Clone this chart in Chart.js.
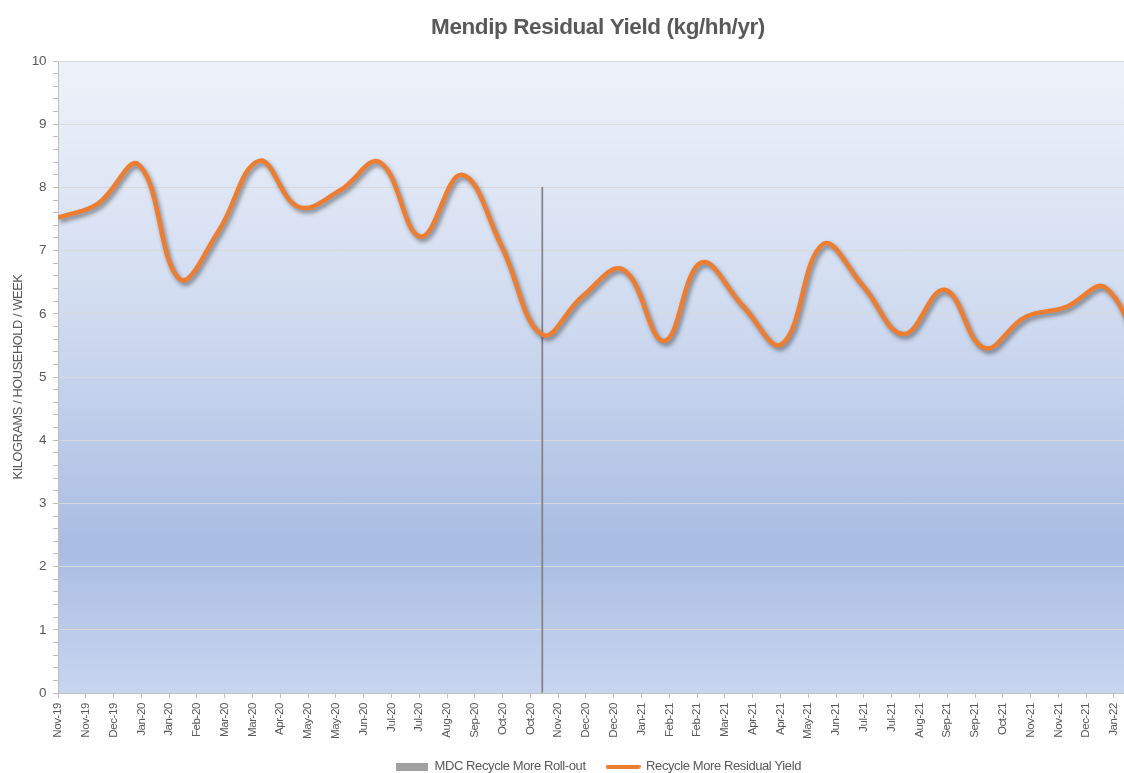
<!DOCTYPE html>
<html>
<head>
<meta charset="utf-8">
<title>Mendip Residual Yield</title>
<script src="https://cdn.jsdelivr.net/npm/chart.js@4"></script>
<style>
  html, body { margin: 0; padding: 0; overflow: hidden; background: #fff; }
  /* the original chart is wider than the window, the right side gets cut off */
  #wrap { width: 1206px; height: 773px; }
</style>
</head>
<body>
<div id="wrap"><canvas id="yieldChart"></canvas></div>
<script>
// --- DATA ---
const startDate = '2019-11-01';
const monthStarts = [
  '2019-11-01', '2019-12-01', '2020-01-01', '2020-02-01', '2020-03-01', '2020-04-01',
  '2020-05-01', '2020-06-01', '2020-07-01', '2020-08-01', '2020-09-01', '2020-10-01',
  '2020-11-01', '2020-12-01', '2021-01-01', '2021-02-01', '2021-03-01', '2021-04-01',
  '2021-05-01', '2021-06-01', '2021-07-01', '2021-08-01', '2021-09-01', '2021-10-01',
  '2021-11-01', '2021-12-01', '2022-01-01', '2022-02-01'
];
const residualYield = [
  7.52, 7.74, 8.36, 6.55, 7.30, 8.42,
  7.69, 7.95, 8.40, 7.22, 8.20, 7.08,
  5.67, 6.27, 6.70, 5.57, 6.81, 6.14,
  5.52, 7.10, 6.45, 5.68, 6.38, 5.46,
  5.95, 6.10, 6.41, 5.00
];
const rolloutDates = ['2020-11-01'];
const rolloutValues = [8];

// x axis ticks every 21 days starting 1 Nov 2019
const tickStepDays = 21;
const tickLabels = [
  'Nov-19', 'Nov-19', 'Dec-19', 'Jan-20', 'Jan-20', 'Feb-20', 'Mar-20', 'Mar-20',
  'Apr-20', 'May-20', 'May-20', 'Jun-20', 'Jul-20', 'Jul-20', 'Aug-20', 'Sep-20',
  'Oct-20', 'Oct-20', 'Nov-20', 'Dec-20', 'Dec-20', 'Jan-21', 'Feb-21', 'Feb-21',
  'Mar-21', 'Apr-21', 'Apr-21', 'May-21', 'Jun-21', 'Jul-21', 'Jul-21', 'Aug-21',
  'Sep-21', 'Sep-21', 'Oct-21', 'Nov-21', 'Nov-21', 'Dec-21', 'Jan-22', 'Jan-22', 'Feb-22'
];
const xMaxDays = 860;
const yMax = 10;
const yMinorStep = 0.2;

const TXT = '#595959';
const ORANGE = '#ed7d31';
const ROLLOUT_GREY = '#7f7f7f';

Chart.defaults.font.family = '"Liberation Sans Narrow", "Arial Narrow", "Liberation Sans", Arial, sans-serif';
Chart.defaults.color = TXT;

function dayOffset(s) {
  return Math.round((Date.parse(s) - Date.parse(startDate)) / 864e5);
}
function isMajor(v) {
  return Math.abs(v - Math.round(v)) < 1e-6;
}
function legendIcon(w, h, color, round) {
  const c = document.createElement('canvas');
  c.width = w; c.height = h;
  const g = c.getContext('2d');
  g.fillStyle = color;
  if (round) {
    g.beginPath();
    g.roundRect(0, 0, w, h, h / 2);
    g.fill();
  } else {
    g.fillRect(0, 0, w, h);
  }
  return c;
}
const orangeIcon = legendIcon(35, 4, ORANGE, true);
const greyIcon = legendIcon(32, 8, '#a0a0a0', false);

// tighter letters, the original uses a narrow face
const narrowText = {
  id: 'narrowText',
  beforeLayout(chart) { chart.ctx.letterSpacing = '-0.4px'; }
};

// gradient fill behind the plot area
const plotBackground = {
  id: 'plotBackground',
  beforeDraw(chart) {
    const { ctx, chartArea: a } = chart;
    const g = ctx.createLinearGradient(0, a.top, 0, a.bottom);
    g.addColorStop(0, '#eef2fa');
    g.addColorStop(0.4, '#d0dbf0');
    g.addColorStop(0.77, '#a9bde3');
    g.addColorStop(1, '#c8d5ef');
    ctx.save();
    ctx.fillStyle = g;
    ctx.fillRect(a.left, a.top, a.right - a.left, a.bottom - a.top);
    ctx.restore();
  }
};

// soft drop shadow under the yield line
const lineShadow = {
  id: 'lineShadow',
  beforeDatasetDraw(chart, args) {
    if (args.index !== 0) return;
    const ctx = chart.ctx;
    ctx.save();
    ctx.shadowColor = 'rgba(30, 30, 30, 0.5)';
    ctx.shadowBlur = 4;
    ctx.shadowOffsetX = 2;
    ctx.shadowOffsetY = 3;
  },
  afterDatasetDraw(chart, args) {
    if (args.index !== 0) return;
    chart.ctx.restore();
  }
};

const yieldPoints = monthStarts.map((m, i) => ({ x: dayOffset(m), y: residualYield[i] }));
const rolloutPoints = rolloutDates.map((d, i) => ({ x: dayOffset(d), y: rolloutValues[i] }));

new Chart(document.getElementById('yieldChart'), {
  type: 'line',
  data: {
    datasets: [{
      type: 'line',
      label: 'Recycle More Residual Yield',
      data: yieldPoints,
      borderColor: ORANGE,
      borderWidth: 4.5,
      pointRadius: 0,
      tension: 0.4,
      fill: false
    }, {
      type: 'bar',
      label: 'MDC Recycle More Roll-out',
      data: rolloutPoints,
      backgroundColor: ROLLOUT_GREY,
      barThickness: 1
    }]
  },
  options: {
    responsive: true,
    maintainAspectRatio: false,
    animation: false,
    layout: { padding: { left: 0, right: 10, top: 0, bottom: -10 } },
    plugins: {
      title: {
        display: true,
        text: 'Mendip Residual Yield (kg/hh/yr)',
        color: TXT,
        font: { size: 22.5, weight: 'bold' },
        padding: { top: 14.5, bottom: 19.5 }
      },
      legend: {
        position: 'bottom',
        reverse: true,
        labels: {
          usePointStyle: true,
          pointStyleWidth: 33,
          boxHeight: 8,
          padding: 21,
          color: TXT,
          font: { size: 13 },
          generateLabels(chart) {
            const items = Chart.defaults.plugins.legend.labels.generateLabels(chart);
            items.forEach(it => { it.pointStyle = it.datasetIndex === 0 ? orangeIcon : greyIcon; });
            return items;
          }
        }
      },
      tooltip: { enabled: false }
    },
    scales: {
      x: {
        type: 'linear',
        offset: false,
        min: 0,
        max: xMaxDays,
        afterBuildTicks(scale) {
          scale.ticks = tickLabels.map((_, i) => ({ value: i * tickStepDays }));
        },
        afterFit(scale) { scale.height = 46; },
        ticks: {
          autoSkip: false,
          minRotation: 90,
          maxRotation: 90,
          padding: 5,
          color: TXT,
          font: { size: 11.5 },
          callback: (v, i) => tickLabels[i]
        },
        grid: { offset: false, drawOnChartArea: false, tickLength: 5, tickColor: '#bfbfbf' },
        border: { color: '#bfbfbf' }
      },
      y: {
        min: 0,
        max: yMax,
        afterBuildTicks(scale) {
          const n = Math.round(yMax / yMinorStep);
          scale.ticks = [];
          for (let i = 0; i <= n; i++) scale.ticks.push({ value: i * yMinorStep });
        },
        afterFit(scale) { scale.width = 58; },
        ticks: {
          autoSkip: false,
          padding: 7,
          color: TXT,
          font: { size: 13.5 },
          callback: v => isMajor(v) ? String(Math.round(v)) : ''
        },
        grid: {
          color: c => isMajor(c.tick.value) ? '#d9d9d9' : 'rgba(0,0,0,0)',
          tickColor: '#bfbfbf',
          tickLength: 5
        },
        border: { color: '#bfbfbf' },
        title: {
          display: true,
          text: 'KILOGRAMS / HOUSEHOLD / WEEK',
          color: TXT,
          font: { size: 12.8 },
          padding: { top: 11, bottom: 4 }
        }
      }
    }
  },
  plugins: [narrowText, plotBackground, lineShadow]
});
</script>
</body>
</html>
